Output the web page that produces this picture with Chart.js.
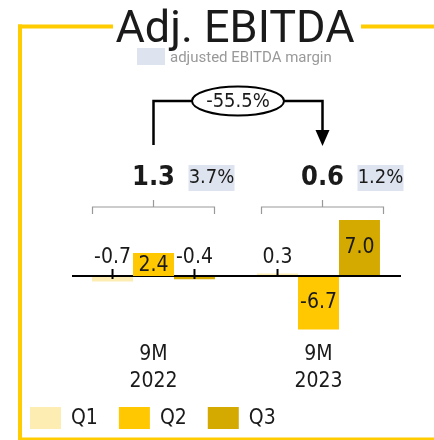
<!DOCTYPE html>
<html>
<head>
<meta charset="utf-8">
<script src="https://cdn.jsdelivr.net/npm/chart.js@4.4.0/dist/chart.umd.min.js"></script>
<style>
  body { margin: 0; background: #fff; }
  #wrap { width: 434px; height: 440px; }
</style>
</head>
<body>
<div id="wrap"><canvas id="chart" width="434" height="440"></canvas></div>
<script>
// data
const periods = [['9M', '2022'], ['9M', '2023']];
const quarters = ['Q1', 'Q2', 'Q3'];
const q1 = [-0.7, 0.3];
const q2 = [2.4, -6.7];
const q3 = [-0.4, 7.0];
const totals = ['1.3', '0.6'];
const margins = ['3.7%', '1.2%'];
const change = '-55.5%';

const colors = ['#fdedb3', '#ffc800', '#d4a900'];
const narrow = "'Liberation Sans Narrow', 'DejaVu Sans Condensed', sans-serif";
const ink = '#1a1a1a';

const annotations = {
  id: 'annotations',
  afterDatasetsDraw(chart) {
    const ctx = chart.ctx;
    const x = chart.scales.x;
    const y = chart.scales.y;
    const area = chart.chartArea;
    const y0 = y.getPixelForValue(0);
    const cx = periods.map((p, i) => x.getPixelForValue(i));

    ctx.save();

    // frame
    ctx.fillStyle = '#ffcc00';
    ctx.fillRect(18, 24.5, 95, 4);
    ctx.fillRect(361, 24.5, 73, 4);
    ctx.fillRect(18, 24.5, 4, 416);
    ctx.fillRect(18, 437.5, 416, 3);

    // title
    ctx.fillStyle = ink;
    ctx.textAlign = 'center';
    ctx.textBaseline = 'alphabetic';
    ctx.font = '45px Roboto';
    ctx.fillText('Adj. EBITDA', 235, 42);

    // margin key
    ctx.fillStyle = '#dde3ef';
    ctx.fillRect(137, 48, 28, 17);
    ctx.fillStyle = '#999';
    ctx.textAlign = 'left';
    ctx.font = '15px Roboto';
    ctx.fillText('adjusted EBITDA margin', 170, 62);

    // change arrow
    const mx = (cx[0] + cx[1]) / 2 + 2;
    const ay = 101;
    ctx.strokeStyle = '#000';
    ctx.lineWidth = 2.5;
    ctx.beginPath();
    ctx.moveTo(cx[0], 145);
    ctx.lineTo(cx[0], ay);
    ctx.lineTo(mx - 46, ay);
    ctx.moveTo(mx + 46, ay);
    ctx.lineTo(cx[1] + 4, ay);
    ctx.lineTo(cx[1] + 4, 131);
    ctx.stroke();
    ctx.fillStyle = '#000';
    ctx.beginPath();
    ctx.moveTo(cx[1] - 3, 130);
    ctx.lineTo(cx[1] + 11, 130);
    ctx.lineTo(cx[1] + 4, 146);
    ctx.closePath();
    ctx.fill();
    ctx.lineWidth = 2;
    ctx.beginPath();
    ctx.ellipse(mx, ay, 46, 14.5, 0, 0, Math.PI * 2);
    ctx.fillStyle = '#fff';
    ctx.fill();
    ctx.stroke();
    ctx.fillStyle = ink;
    ctx.textAlign = 'center';
    ctx.textBaseline = 'middle';
    ctx.font = '20px ' + narrow;
    ctx.fillText(change, mx, ay + 1);

    // totals, margins, brackets
    cx.forEach((c, i) => {
      const bx = i === 0 ? c : c + 4;
      ctx.fillStyle = ink;
      ctx.textAlign = 'center';
      ctx.font = 'bold 27px ' + narrow;
      ctx.fillText(totals[i], bx, 178);
      ctx.fillStyle = '#dde3ef';
      ctx.fillRect(bx + 35, 165, 46, 26);
      ctx.fillStyle = ink;
      ctx.font = '20px ' + narrow;
      ctx.fillText(margins[i], bx + 58, 178);

      ctx.strokeStyle = '#999';
      ctx.lineWidth = 1.2;
      ctx.beginPath();
      ctx.moveTo(bx - 61, 214);
      ctx.lineTo(bx - 61, 207);
      ctx.lineTo(bx + 61, 207);
      ctx.lineTo(bx + 61, 214);
      ctx.moveTo(bx, 207);
      ctx.lineTo(bx, 200);
      ctx.stroke();

      ctx.fillStyle = ink;
      ctx.font = '21px ' + narrow;
      ctx.fillText(periods[i][0], c, 355);
      ctx.fillText(periods[i][1], c, 382);
    });

    // zero line
    ctx.strokeStyle = '#000';
    ctx.lineWidth = 2;
    ctx.beginPath();
    ctx.moveTo(area.left + 1, y0);
    ctx.lineTo(area.right, y0);
    ctx.stroke();

    // value labels
    ctx.font = '21px ' + narrow;
    chart.data.datasets.forEach((ds, di) => {
      const meta = chart.getDatasetMeta(di);
      meta.data.forEach((bar, j) => {
        const v = ds.data[j];
        const txt = v.toFixed(1);
        ctx.fillStyle = ink;
        if (Math.abs(v) >= 2) {
          const h = Math.abs(bar.base - bar.y);
          let ty = (bar.y + bar.base) / 2;
          if (h < 23) {
            ctx.fillStyle = ds.backgroundColor;
            ctx.fillRect(bar.x - bar.width / 2, bar.base - 23, bar.width, 23);
            ty = bar.base - 10;
            ctx.fillStyle = ink;
          }
          ctx.fillText(txt, bar.x, ty);
        } else {
          ctx.fillText(txt, bar.x, y0 - 18);
          ctx.strokeStyle = '#000';
          ctx.lineWidth = 2;
          ctx.beginPath();
          ctx.moveTo(bar.x, y0 - 7);
          ctx.lineTo(bar.x, v < 0 ? y0 + 3 : y0);
          ctx.stroke();
        }
      });
    });

    // legend
    let lx = 30;
    ctx.textAlign = 'left';
    ctx.font = '21px ' + narrow;
    chart.data.datasets.forEach((ds) => {
      ctx.fillStyle = ds.backgroundColor;
      ctx.fillRect(lx, 407, 31, 22);
      ctx.fillStyle = ink;
      ctx.fillText(ds.label, lx + 41, 419);
      lx += 41 + ctx.measureText(ds.label).width + 21;
    });

    ctx.restore();
  }
};

new Chart(document.getElementById('chart'), {
  type: 'bar',
  data: {
    labels: periods,
    datasets: [
      { label: quarters[0], data: q1, backgroundColor: colors[0] },
      { label: quarters[1], data: q2, backgroundColor: colors[1] },
      { label: quarters[2], data: q3, backgroundColor: colors[2] }
    ]
  },
  options: {
    responsive: false,
    animation: false,
    layout: { padding: { left: 71, right: 33, top: 212, bottom: 100 } },
    datasets: { bar: { categoryPercentage: 0.745, barPercentage: 1, borderWidth: 0 } },
    plugins: { legend: { display: false }, tooltip: { enabled: false } },
    scales: {
      x: { display: false },
      y: { display: false, min: -8, max: 8 }
    }
  },
  plugins: [annotations]
});
</script>
</body>
</html>
